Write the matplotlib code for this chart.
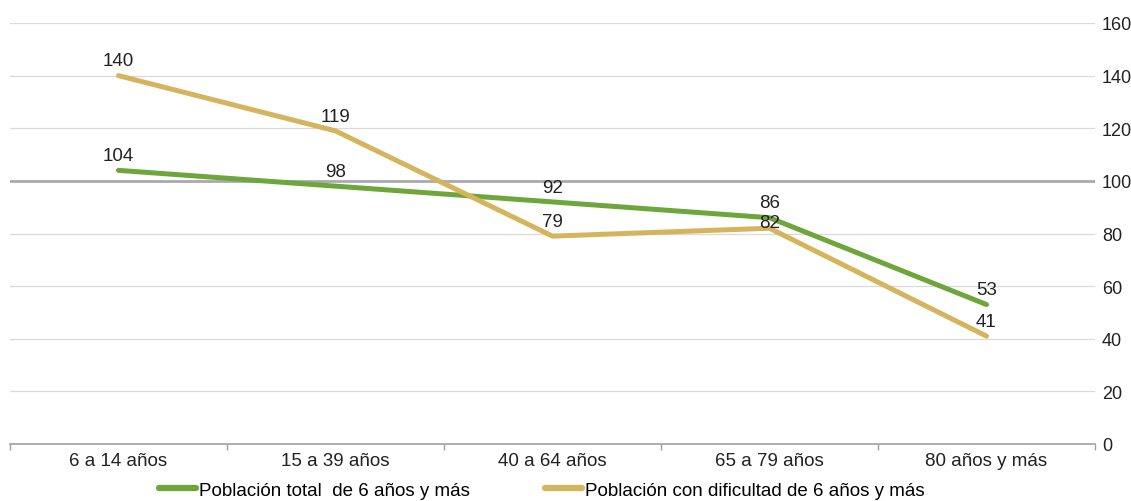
import numpy as np
import matplotlib.pyplot as plt
from matplotlib.lines import Line2D

plt.rcParams['font.family'] = ['Liberation Sans', 'DejaVu Sans']

categories = ['6 a 14 años', '15 a 39 años', '40 a 64 años', '65 a 79 años', '80 años y más']
total = [104, 98, 92, 86, 53]
dificultad = [140, 119, 79, 82, 41]
yticks = [0, 20, 40, 60, 80, 100, 120, 140, 160]

green = '#6FA63B'
gold = '#D4B45C'

fig = plt.figure(figsize=(11.31, 5.02), dpi=100)
ax = fig.add_axes([10 / 1131, 57 / 502, 1085 / 1131, 421 / 502])

x = np.arange(len(categories))
ax.set_xlim(-0.5, len(categories) - 0.5)
ax.set_ylim(0, 160)

# grid lines (100 is the reference line, darker)
for v in yticks[1:]:
    if v == 100:
        ax.axhline(v, color='#A9A9AF', lw=2, zorder=1)
    else:
        ax.axhline(v, color='#D9D9D9', lw=0.9, zorder=1)

ax.plot(x, total, color=green, lw=3.6, solid_capstyle='round', zorder=3)
ax.plot(x, dificultad, color=gold, lw=3.6, solid_capstyle='round', zorder=3)

for xi, v in zip(x, total):
    ax.annotate(str(v), (xi, v), xytext=(0, 4.5), textcoords='offset points',
                ha='center', va='bottom', fontsize=13.5, color='#222222', zorder=4)
for i, (xi, v) in enumerate(zip(x, dificultad)):
    # label of 65 a 79 sits closer to its point (crowded with 86)
    if i == 3:
        ax.annotate(str(v), (xi, v), xytext=(0, 4), textcoords='offset points',
                    ha='center', va='center', fontsize=13.5, color='#222222', zorder=4)
    else:
        ax.annotate(str(v), (xi, v), xytext=(0, 4.5), textcoords='offset points',
                    ha='center', va='bottom', fontsize=13.5, color='#222222', zorder=4)

# axes styling
for s in ['top', 'left', 'right']:
    ax.spines[s].set_visible(False)
ax.spines['bottom'].set_color('#A0A0A0')
ax.spines['bottom'].set_linewidth(1.2)

ax.yaxis.tick_right()
ax.set_yticks(yticks)
ax.tick_params(axis='y', length=0, pad=5, labelsize=13, labelcolor='#222222')

ax.set_xticks(x)
ax.set_xticklabels(categories)
ax.tick_params(axis='x', length=0, pad=6, labelsize=13.5, labelcolor='#222222')
ax.set_xticks(np.arange(-0.5, len(categories)), minor=True)
ax.tick_params(axis='x', which='minor', length=4, color='#A0A0A0', width=1)

handles = [Line2D([], [], color=green, lw=4.5, solid_capstyle='round'),
           Line2D([], [], color=gold, lw=4.5, solid_capstyle='round')]
fig.legend(handles, ['Población total  de 6 años y más', 'Población con dificultad de 6 años y más'],
           loc='center', bbox_to_anchor=(0.479, 0.022), ncol=2, frameon=False,
           fontsize=13.5, handlelength=2.0, handletextpad=0.15, columnspacing=4.0)

fig.savefig('out.png', dpi=100)
